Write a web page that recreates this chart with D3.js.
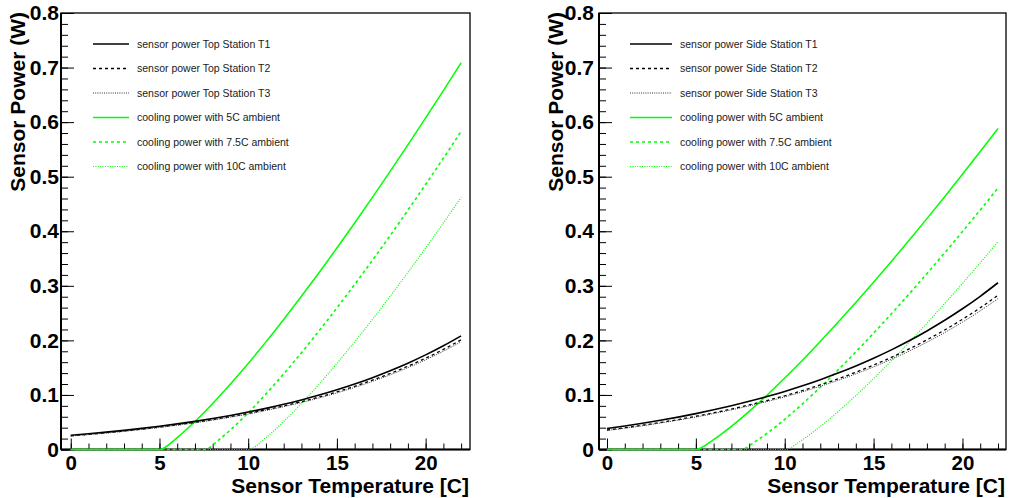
<!DOCTYPE html>
<html>
<head>
<meta charset="utf-8">
<script src="https://cdn.jsdelivr.net/npm/d3@7"></script>
<style>
  html, body { margin: 0; padding: 0; background: #ffffff; }
  svg { display: block; }
  text { font-family: "Liberation Sans", Arial, Helvetica, sans-serif; }
</style>
</head>
<body>
<svg id="chart" width="1009" height="498"></svg>
<script>
// ---------------- data ----------------
const temps = [0,1,2,3,4,5,6,7,8,9,10,11,12,13,14,15,16,17,18,19,20,21,22];

const topT1 = [0.0260,0.0288,0.0318,0.0351,0.0387,0.0426,0.0469,0.0516,0.0568,0.0624,0.0686,0.0754,0.0828,0.0909,0.0997,0.1094,0.1200,0.1317,0.1444,0.1582,0.1734,0.1901,0.2083];
const topT2 = [0.0251,0.0278,0.0307,0.0339,0.0373,0.0411,0.0453,0.0498,0.0548,0.0602,0.0662,0.0728,0.0799,0.0877,0.0962,0.1056,0.1158,0.1271,0.1393,0.1527,0.1673,0.1834,0.2010];
const topT3 = [0.0246,0.0273,0.0301,0.0333,0.0367,0.0404,0.0445,0.0489,0.0538,0.0592,0.0650,0.0715,0.0785,0.0862,0.0945,0.1037,0.1138,0.1249,0.1369,0.1500,0.1644,0.1802,0.1975];

const sideT1 = [0.0385,0.0431,0.0481,0.0536,0.0594,0.0658,0.0727,0.0802,0.0883,0.0970,0.1065,0.1168,0.1280,0.1400,0.1531,0.1673,0.1826,0.1992,0.2173,0.2368,0.2579,0.2808,0.3056];
const sideT2 = [0.0356,0.0399,0.0445,0.0496,0.0549,0.0609,0.0672,0.0742,0.0817,0.0897,0.0985,0.1080,0.1184,0.1295,0.1416,0.1548,0.1689,0.1843,0.2010,0.2190,0.2386,0.2597,0.2827];
const sideT3 = [0.0348,0.0390,0.0435,0.0485,0.0538,0.0595,0.0658,0.0726,0.0799,0.0878,0.0964,0.1057,0.1158,0.1267,0.1386,0.1514,0.1653,0.1803,0.1967,0.2143,0.2334,0.2541,0.2766];

const amb5Temps  = [0,5,6,7,8,9,10,11,12,13,14,15,16,17,18,19,20,21,22];
const amb75Temps = [0,7.5,8.5,9.5,10.5,11.5,12.5,13.5,14.5,15.5,16.5,17.5,18.5,19.5,20.5,21.5,22];
const amb10Temps = [0,10,11,12,13,14,15,16,17,18,19,20,21,22];

const topCool5  = [0,0,0.0219,0.0512,0.0842,0.1199,0.1577,0.1972,0.2384,0.2808,0.3245,0.3693,0.4152,0.4621,0.5098,0.5583,0.6077,0.6579,0.7088];
const topCool75 = [0,0,0.0219,0.0512,0.0842,0.1199,0.1577,0.1972,0.2384,0.2808,0.3245,0.3693,0.4152,0.4621,0.5098,0.5583,0.5830];
const topCool10 = [0,0,0.0219,0.0512,0.0842,0.1199,0.1577,0.1972,0.2384,0.2808,0.3245,0.3693,0.4152,0.4621];

const sideCool5  = [0,0,0.0182,0.0425,0.0699,0.0995,0.1309,0.1637,0.1979,0.2331,0.2693,0.3065,0.3446,0.3835,0.4231,0.4634,0.5044,0.5461,0.5883];
const sideCool75 = [0,0,0.0180,0.0421,0.0692,0.0986,0.1296,0.1621,0.1960,0.2308,0.2667,0.3036,0.3413,0.3798,0.4191,0.4589,0.4792];
const sideCool10 = [0,0,0.0180,0.0422,0.0694,0.0988,0.1299,0.1625,0.1964,0.2314,0.2674,0.3043,0.3421,0.3808];

const xTicks = [0,5,10,15,20];
const xTickLabels = ["0","5","10","15","20"];
const xMinorTicks = [0,1,2,3,4,5,6,7,8,9,10,11,12,13,14,15,16,17,18,19,20,21,22];
const yTicks = [0,0.1,0.2,0.3,0.4,0.5,0.6,0.7,0.8];
const yTickLabels = ["0","0.1","0.2","0.3","0.4","0.5","0.6","0.7","0.8"];
const yMinorTicks = d3.range(0, 41).map(i => i / 50);

const topLegend  = ["sensor power Top Station T1","sensor power Top Station T2","sensor power Top Station T3","cooling power with 5C ambient","cooling power with 7.5C ambient","cooling power with 10C ambient"];
const sideLegend = ["sensor power Side Station T1","sensor power Side Station T2","sensor power Side Station T3","cooling power with 5C ambient","cooling power with 7.5C ambient","cooling power with 10C ambient"];

const xTitle = "Sensor Temperature [C]";
const yTitle = "Sensor Power (W)";

// ---------------- styles ----------------
const GREEN = "#00ff00";
const styles = [
  {color:"#000", width:1.6, dash:null},
  {color:"#000", width:1.3, dash:"3,3"},
  {color:"#333", width:1.0, dash:"1,1.2"},
  {color:GREEN, width:1.5, dash:null},
  {color:GREEN, width:1.6, dash:"3,3"},
  {color:GREEN, width:1.2, dash:"1,1.4"}
];

const svg = d3.select("#chart");

function drawPanel(cfg) {
  const x = d3.scaleLinear().domain(cfg.xDomain).range(cfg.xRange);
  const y = d3.scaleLinear().domain([0, 0.8]).range([449.5, 13]);
  const g = svg.append("g");

  // frame
  g.append("rect")
    .attr("x", cfg.xRange[0]).attr("y", 13)
    .attr("width", cfg.xRange[1] - cfg.xRange[0]).attr("height", 449.5 - 13)
    .attr("fill", "none").attr("stroke", "#000").attr("stroke-width", 1.3);

  // x minor ticks
  g.append("g").attr("transform", `translate(0,449.5)`)
    .call(d3.axisBottom(x).tickValues(xMinorTicks).tickSize(-6).tickFormat(""))
    .call(a => a.select(".domain").remove())
    .call(a => a.selectAll("line").attr("stroke", "#000"));
  // x major
  g.append("g").attr("transform", `translate(0,449.5)`)
    .call(d3.axisBottom(x).tickValues(xTicks).tickSize(-11).tickPadding(6)
      .tickFormat((d, i) => xTickLabels[i]))
    .call(a => a.select(".domain").remove())
    .call(a => a.selectAll("line").attr("stroke", "#000"))
    .call(a => a.selectAll("text").attr("font-size", 20.5).attr("font-weight", "bold")
      .attr("fill", "#000").attr("font-family", "'Liberation Sans', Arial, sans-serif"));

  // y minor
  g.append("g").attr("transform", `translate(${cfg.xRange[0]},0)`)
    .call(d3.axisLeft(y).tickValues(yMinorTicks).tickSize(-7).tickFormat(""))
    .call(a => a.select(".domain").remove())
    .call(a => a.selectAll("line").attr("stroke", "#000"));
  // y major
  g.append("g").attr("transform", `translate(${cfg.xRange[0]},0)`)
    .call(d3.axisLeft(y).tickValues(yTicks).tickSize(-13).tickPadding(cfg.yPad)
      .tickFormat((d, i) => yTickLabels[i]))
    .call(a => a.select(".domain").remove())
    .call(a => a.selectAll("line").attr("stroke", "#000"))
    .call(a => a.selectAll("text").attr("font-size", 21).attr("font-weight", "bold")
      .attr("fill", "#000").attr("font-family", "'Liberation Sans', Arial, sans-serif"));

  // axis lines (thicker left & bottom)
  g.append("line").attr("x1", cfg.xRange[0]).attr("x2", cfg.xRange[1])
    .attr("y1", 449.5).attr("y2", 449.5).attr("stroke", "#000").attr("stroke-width", 2);
  g.append("line").attr("x1", cfg.xRange[0]).attr("x2", cfg.xRange[0])
    .attr("y1", 13).attr("y2", 449.5).attr("stroke", "#000").attr("stroke-width", 2);

  // titles
  g.append("text")
    .attr("x", cfg.xRange[1] - 1).attr("y", 493)
    .attr("text-anchor", "end").attr("font-size", 21).attr("font-weight", "bold")
    .text(xTitle);
  g.append("text")
    .attr("transform", `translate(${cfg.yTitleX},12) rotate(-90)`)
    .attr("text-anchor", "end").attr("font-size", 21).attr("font-weight", "bold")
    .text(yTitle);

  // curves
  const line = d3.line().x(d => x(d[0])).y(d => y(d[1])).curve(d3.curveMonotoneX);
  const series = cfg.series;
  [3, 4, 5, 0, 1, 2].forEach(i => {
    const s = series[i];
    const pts = s.t.map((t, j) => [t, s.v[j]]);
    g.append("path").datum(pts).attr("d", line)
      .attr("fill", "none").attr("stroke", styles[i].color)
      .attr("stroke-width", styles[i].width)
      .attr("stroke-dasharray", styles[i].dash);
  });

  // legend
  cfg.legend.forEach((label, i) => {
    const ly = 44 + i * 24.5;
    g.append("line").attr("x1", cfg.legX[0]).attr("x2", cfg.legX[1])
      .attr("y1", ly).attr("y2", ly)
      .attr("stroke", styles[i].color).attr("stroke-width", styles[i].width)
      .attr("stroke-dasharray", styles[i].dash);
    g.append("text").attr("x", cfg.legX[2]).attr("y", ly)
      .attr("dy", "0.35em").attr("font-size", 10.5).attr("fill", "#1a1a1a")
      .text(label);
  });
}

drawPanel({
  xDomain: [-0.55, 22.5], xRange: [61, 470], yPad: 2, yTitleX: 25,
  legX: [93, 129, 137],
  legend: topLegend,
  series: [
    {t: temps, v: topT1}, {t: temps, v: topT2}, {t: temps, v: topT3},
    {t: amb5Temps, v: topCool5}, {t: amb75Temps, v: topCool75}, {t: amb10Temps, v: topCool10}
  ]
});
drawPanel({
  xDomain: [-0.45, 22.45], xRange: [599, 1006], yPad: 5, yTitleX: 563,
  legX: [630, 672, 680],
  legend: sideLegend,
  series: [
    {t: temps, v: sideT1}, {t: temps, v: sideT2}, {t: temps, v: sideT3},
    {t: amb5Temps, v: sideCool5}, {t: amb75Temps, v: sideCool75}, {t: amb10Temps, v: sideCool10}
  ]
});
</script>
</body>
</html>
